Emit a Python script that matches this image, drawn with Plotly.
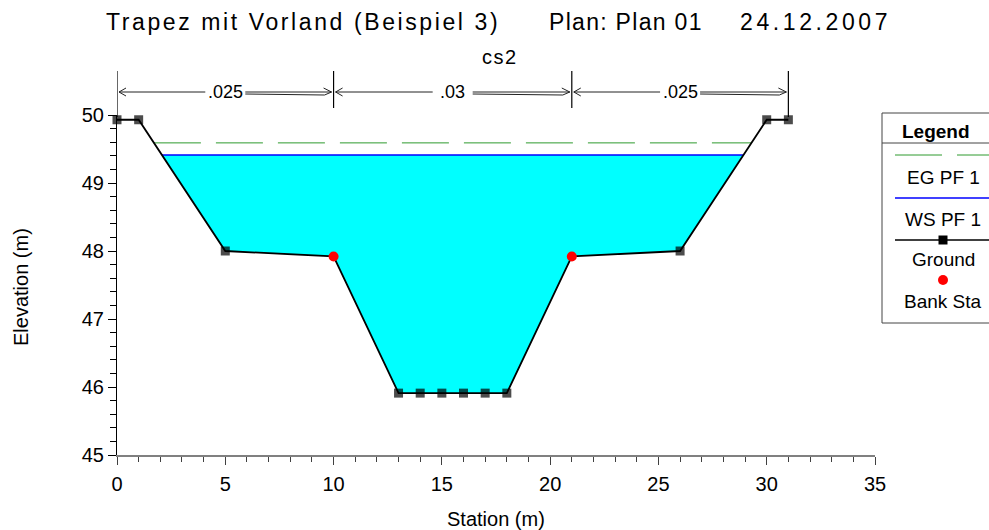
import plotly.graph_objects as go

# ---------------- data ----------------
station = [0, 1, 5, 10, 13, 14, 15, 16, 17, 18, 21, 26, 30, 31]
elevation = [49.93, 49.93, 48.0, 47.92, 45.91, 45.91, 45.91, 45.91, 45.91, 45.91, 47.92, 48.0, 49.93, 49.93]
bank_sta = [10, 21]
ws_elev = 49.41
eg_elev = 49.59
n_breaks = [0, 10, 21, 31]
n_values = [".025", ".03", ".025"]
x_ticks = [0, 5, 10, 15, 20, 25, 30, 35]
y_ticks = [45, 46, 47, 48, 49, 50]

title_parts = ["Trapez mit Vorland (Beispiel 3)", "Plan: Plan 01", "24.12.2007"]
subtitle = "cs2"
legend_items = ["EG PF 1", "WS PF 1", "Ground", "Bank Sta"]

# ---------------- layout constants ----------------
W, H = 989, 530
ML, MR, MT, MB = 117, 114, 115, 75
PW, PH = W - ML - MR, H - MT - MB
PPU = PW / 35.0  # pixels per station unit
FONT = "Liberation Sans, Arial, sans-serif"


def px(xp):
    return (xp - ML) / PW


def py(yp):
    return (H - MB - yp) / PH


def crossing(level, side):
    """station where the ground crosses `level` on left/right bank"""
    pts = list(zip(station, elevation))
    if side == "right":
        pts = pts[::-1]
    for (x0, y0), (x1, y1) in zip(pts[:-1], pts[1:]):
        if (y0 - level) * (y1 - level) <= 0 and y0 != y1:
            return x0 + (level - y0) * (x1 - x0) / (y1 - y0)
    return None


wl, wr = crossing(ws_elev, "left"), crossing(ws_elev, "right")
el, er = crossing(eg_elev, "left"), crossing(eg_elev, "right")

# water polygon
wx = [wl] + [s for s, e in zip(station, elevation) if wl < s < wr] + [wr]
wy = [ws_elev] + [e for s, e in zip(station, elevation) if wl < s < wr] + [ws_elev]

fig = go.Figure()
fig.add_trace(go.Scatter(x=wx, y=wy, fill="toself", fillcolor="#00FFFF", mode="lines",
                         line=dict(width=0, color="#00FFFF"), hoverinfo="skip", showlegend=False))
fig.add_trace(go.Scatter(x=[el, er], y=[eg_elev, eg_elev], mode="lines",
                         line=dict(color="#2e9a2e", width=1, dash="47px,15px"), showlegend=False))
fig.add_trace(go.Scatter(x=[wl, wr], y=[ws_elev, ws_elev], mode="lines",
                         line=dict(color="#0000FF", width=1.5), showlegend=False))
gsize = [0 if s in bank_sta else 9 for s in station]
fig.add_trace(go.Scatter(x=station, y=elevation, mode="lines+markers",
                         line=dict(color="black", width=1.8),
                         marker=dict(symbol="square", size=gsize, color="black", line=dict(width=0)),
                         cliponaxis=False, showlegend=False))
fig.add_trace(go.Scatter(x=bank_sta, y=[elevation[station.index(b)] for b in bank_sta], mode="markers",
                         marker=dict(symbol="circle", size=10, color="#FF0000", line=dict(width=0)),
                         cliponaxis=False, showlegend=False))

shapes = []
annotations = []


def spaced(txt, ls):
    return f'<span style="letter-spacing:{ls}px">{txt}</span>'


# ----- Manning's n dimension lines -----
ARROW_Y = 23  # pixels above plot top
for b in n_breaks:
    shapes.append(dict(type="line", xref="x", yref="paper", xsizemode="pixel", ysizemode="pixel",
                       xanchor=b, yanchor=1, x0=0, x1=0, y0=44, y1=-2 if b in (0, n_breaks[-1]) else 7,
                       line=dict(color="black", width=1.2)))
for (a, b), nv in zip(zip(n_breaks[:-1], n_breaks[1:]), n_values):
    half = (b - a) / 2 * PPU
    lab = 20
    shapes.append(dict(type="path", xref="x", yref="paper", xsizemode="pixel", ysizemode="pixel",
                       xanchor=a, yanchor=1,
                       path=f"M {half - lab},{ARROW_Y} L 2,{ARROW_Y} M 9,{ARROW_Y + 4} L 2,{ARROW_Y} L 9,{ARROW_Y - 4}",
                       line=dict(color="#222222", width=1)))
    shapes.append(dict(type="path", xref="x", yref="paper", xsizemode="pixel", ysizemode="pixel",
                       xanchor=b, yanchor=1,
                       path=(f"M {-(half - lab)},{ARROW_Y} L -2,{ARROW_Y} "
                             f"M {-(half - lab)},{ARROW_Y - 2} L -9,{ARROW_Y - 3} L -2,{ARROW_Y} "
                             f"M -10,{ARROW_Y + 4} L -2,{ARROW_Y}"),
                       line=dict(color="#222222", width=1)))
    annotations.append(dict(x=(a + b) / 2, y=1, xref="x", yref="paper", yshift=ARROW_Y, text=nv,
                            showarrow=False, font=dict(family=FONT, size=18, color="black"),
                            xanchor="center", yanchor="middle"))

# ----- titles -----
for part, xl, ls in zip(title_parts, [104, 547, 738], [2.6, 1.3, 3.6]):
    annotations.append(dict(x=px(xl), y=py(22), xref="paper", yref="paper", text=spaced(part, ls),
                            showarrow=False, font=dict(family=FONT, size=23, color="black"),
                            xanchor="left", yanchor="middle"))
annotations.append(dict(x=px(500), y=py(57), xref="paper", yref="paper", text=spaced(subtitle, 1.5),
                        showarrow=False, font=dict(family=FONT, size=20, color="black"),
                        xanchor="center", yanchor="middle"))
annotations.append(dict(x=px(496), y=py(519), xref="paper", yref="paper", text="Station (m)", showarrow=False,
                        font=dict(family=FONT, size=20, color="black"), xanchor="center", yanchor="middle"))
annotations.append(dict(x=px(21), y=py(287), xref="paper", yref="paper", text="Elevation (m)", showarrow=False,
                        textangle=-90, font=dict(family=FONT, size=20, color="black"),
                        xanchor="center", yanchor="middle"))

# ----- legend box (drawn) -----
LX0, LX1 = 882, 1000
shapes.append(dict(type="rect", xref="paper", yref="paper", x0=px(LX0), x1=px(LX1), y0=py(323), y1=py(113),
                   line=dict(color="#444444", width=1), fillcolor="white", layer="above"))
shapes.append(dict(type="line", xref="paper", yref="paper", x0=px(LX0), x1=px(LX1), y0=py(143), y1=py(143),
                   line=dict(color="#444444", width=1)))
shapes.append(dict(type="line", xref="paper", yref="paper", x0=px(895), x1=px(990), y0=py(155), y1=py(155),
                   line=dict(color="#2e9a2e", width=1, dash="47px,15px")))
shapes.append(dict(type="line", xref="paper", yref="paper", x0=px(895), x1=px(990), y0=py(198), y1=py(198),
                   line=dict(color="#0000FF", width=1.5)))
shapes.append(dict(type="line", xref="paper", yref="paper", x0=px(895), x1=px(990), y0=py(240), y1=py(240),
                   line=dict(color="black", width=1.5)))
shapes.append(dict(type="rect", xref="paper", yref="paper", xsizemode="pixel", ysizemode="pixel",
                   xanchor=px(943), yanchor=py(240), x0=-4.5, x1=4.5, y0=-4.5, y1=4.5,
                   line=dict(width=0), fillcolor="black"))
shapes.append(dict(type="circle", xref="paper", yref="paper", xsizemode="pixel", ysizemode="pixel",
                   xanchor=px(943), yanchor=py(280), x0=-5, x1=5, y0=-5, y1=5,
                   line=dict(width=0), fillcolor="#FF0000"))
annotations.append(dict(x=px(936), y=py(131), xref="paper", yref="paper", text="<b>Legend</b>",
                        showarrow=False, font=dict(family=FONT, size=19, color="black"),
                        xanchor="center", yanchor="middle"))
for txt, yy in zip(legend_items, [177, 219, 259, 301]):
    annotations.append(dict(x=px(943), y=py(yy), xref="paper", yref="paper", text=txt, showarrow=False,
                            font=dict(family=FONT, size=19, color="black"),
                            xanchor="center", yanchor="middle"))

fig.update_layout(
    width=W, height=H,
    margin=dict(l=ML, r=MR, t=MT, b=MB, pad=0),
    plot_bgcolor="white", paper_bgcolor="white",
    font=dict(family=FONT, color="black"),
    showlegend=False,
    shapes=shapes,
    annotations=annotations,
    xaxis=dict(range=[0, 35], tickvals=x_ticks, showgrid=False, zeroline=False,
               showline=True, linecolor="#808080", linewidth=1.5,
               ticks="outside", ticklen=8, tickcolor="#404040", tickwidth=1,
               minor=dict(dtick=1, ticks="outside", ticklen=5, tickcolor="#404040"),
               ticklabelstandoff=2,
               tickfont=dict(family=FONT, size=20, color="black")),
    yaxis=dict(range=[45, 50], tickvals=y_ticks, showgrid=False, zeroline=False,
               showline=True, linecolor="black", linewidth=1.2,
               ticks="outside", ticklen=8, tickcolor="black", tickwidth=1,
               minor=dict(dtick=0.2, ticks="outside", ticklen=6, tickcolor="black"),
               tickfont=dict(family=FONT, size=20, color="black")),
)

fig.write_html("out.html")
